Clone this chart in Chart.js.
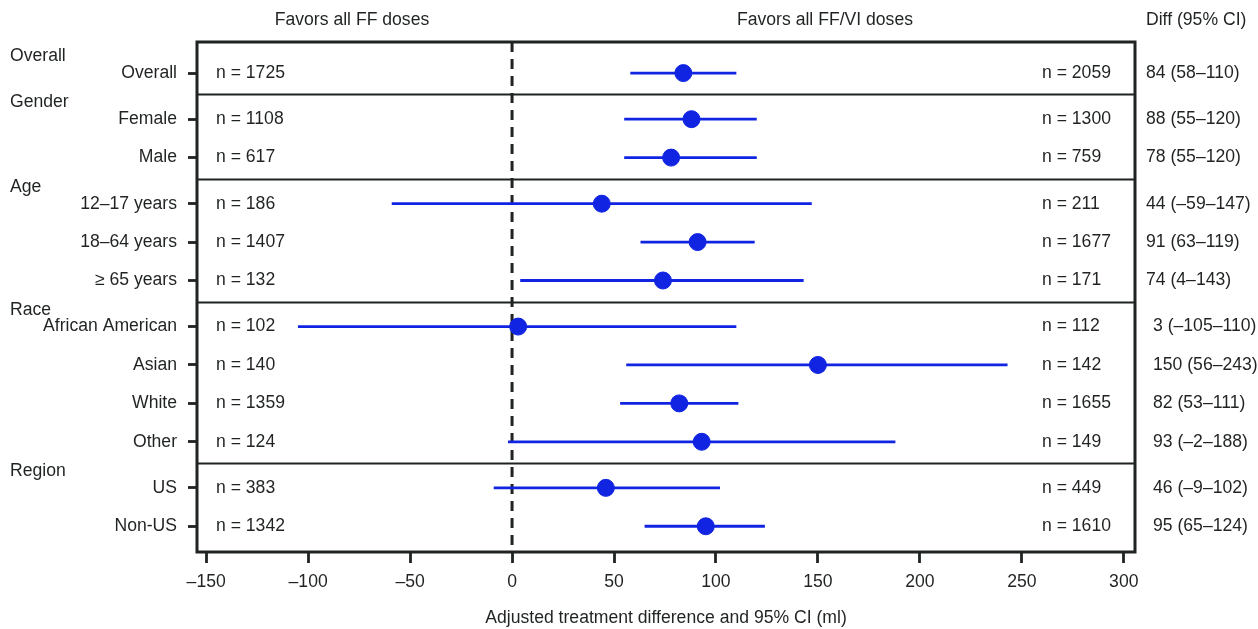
<!DOCTYPE html>
<html>
<head>
<meta charset="utf-8">
<script src="https://cdn.jsdelivr.net/npm/chart.js@4.4.1/dist/chart.umd.min.js"></script>
<style>
  html, body { margin: 0; padding: 0; background: #fff; }
  #wrap { width: 1258px; height: 629px; position: relative; }
</style>
</head>
<body>
<div id="wrap"><canvas id="forest"></canvas></div>
<script>
/* ===== data ===== */

const groupNames = ["Overall", "Gender", "Age", "Race", "Region"];
const groupSizes = [1, 2, 3, 4, 2];

const rowLabels = [
  "Overall",
  "Female", "Male",
  "12–17 years", "18–64 years", "≥ 65 years",
  "African American", "Asian", "White", "Other",
  "US", "Non-US"
];

const nFF   = [1725, 1108, 617, 186, 1407, 132, 102, 140, 1359, 124, 383, 1342];
const nFFVI = [2059, 1300, 759, 211, 1677, 171, 112, 142, 1655, 149, 449, 1610];

const diffEst = [84, 88, 78, 44, 91, 74, 3, 150, 82, 93, 46, 95];
const ciLow   = [58, 55, 55, -59, 63, 4, -105, 56, 53, -2, -9, 65];
const ciHigh  = [110, 120, 120, 147, 119, 143, 110, 243, 111, 188, 102, 124];

const xTicks = [-150, -100, -50, 0, 50, 100, 150, 200, 250, 300];

/* ===== row positions (1 per row, small gap between groups) ===== */

const GAP = 0.2;
const rowPos = [];
const groupStart = [];
const groupEnd = [];
let pos = 0;
groupSizes.forEach((size, g) => {
  groupStart.push(pos);
  for (let i = 0; i < size; i++) {
    rowPos.push(pos);
    if (i < size - 1) pos += 1;
  }
  groupEnd.push(pos);
  pos += 1 + GAP;
});

const dash = v => (v < 0 ? "–" + Math.abs(v) : String(v));

const ink = "#1f2321";
const blue = "#1024e2";
const FONT = "'Liberation Sans', Arial, sans-serif";
const FSIZE = 17.6;

/* ===== datasets ===== */

const ciSets = rowPos.map((y, i) => ({
  type: "line",
  data: [{ x: ciLow[i], y: y }, { x: ciHigh[i], y: y }],
  borderColor: blue,
  borderWidth: 2.8,
  pointRadius: 0,
  showLine: true,
  order: 2
}));

const estSet = {
  type: "scatter",
  data: rowPos.map((y, i) => ({ x: diffEst[i], y: y })),
  backgroundColor: blue,
  borderColor: blue,
  pointRadius: 8.5,
  pointHoverRadius: 8.5,
  order: 1
};

/* ===== extras: box, separators, zero line, texts ===== */

const forestExtras = {
  id: "forestExtras",

  beforeDatasetsDraw(chart) {
    const { ctx, chartArea: a, scales: { x } } = chart;
    const x0 = x.getPixelForValue(0);
    ctx.save();
    ctx.strokeStyle = ink;
    ctx.lineWidth = 3;
    ctx.setLineDash([10, 7]);
    ctx.beginPath();
    ctx.moveTo(x0, a.top);
    ctx.lineTo(x0, a.bottom);
    ctx.stroke();
    ctx.restore();
  },

  afterDatasetsDraw(chart) {
    const { ctx, chartArea: a, scales: { y } } = chart;
    ctx.save();

    // frame
    ctx.strokeStyle = ink;
    ctx.lineWidth = 3;
    ctx.strokeRect(a.left, a.top, a.right - a.left, a.bottom - a.top);

    // group separators
    ctx.lineWidth = 2.2;
    for (let g = 0; g < groupNames.length - 1; g++) {
      const yy = Math.round(y.getPixelForValue(groupEnd[g] + 0.55)) + 0.5;
      ctx.beginPath();
      ctx.moveTo(a.left, yy);
      ctx.lineTo(a.right, yy);
      ctx.stroke();
    }

    ctx.fillStyle = ink;
    ctx.font = FSIZE + "px " + FONT;
    ctx.textBaseline = "middle";

    // column headers
    ctx.textAlign = "center";
    ctx.fillText("Favors all FF doses", 352, 20);
    ctx.fillText("Favors all FF/VI doses", 825, 20);
    ctx.textAlign = "left";
    ctx.fillText("Diff (95% CI)", 1146, 20);

    // group headers
    groupNames.forEach((name, g) => {
      ctx.fillText(name, 10, y.getPixelForValue(groupStart[g] - 0.44));
    });

    // per-row counts and differences
    rowPos.forEach((p, i) => {
      const yy = y.getPixelForValue(p);
      ctx.fillText("n = " + nFF[i], 216, yy);
      ctx.fillText("n = " + nFFVI[i], 1042, yy);
      const txt = diffEst[i] + " (" + dash(ciLow[i]) + "–" + dash(ciHigh[i]) + ")";
      ctx.fillText(txt, i >= 6 ? 1153 : 1146, yy);
    });

    ctx.restore();
  }
};

/* ===== chart ===== */

Chart.defaults.font.family = FONT;
Chart.defaults.font.size = FSIZE;
Chart.defaults.color = ink;

new Chart(document.getElementById("forest"), {
  type: "scatter",
  data: { datasets: [...ciSets, estSet] },
  options: {
    responsive: true,
    maintainAspectRatio: false,
    animation: false,
    layout: { padding: { top: 42, right: 123, left: 0, bottom: 0 } },
    plugins: {
      legend: { display: false },
      tooltip: { enabled: false }
    },
    scales: {
      x: {
        type: "linear",
        min: -154.5,
        max: 305.5,
        afterBuildTicks: s => { s.ticks = xTicks.map(v => ({ value: v })); },
        afterFit: s => { s.height = 77; },
        ticks: {
          padding: 9,
          callback: v => dash(v)
        },
        grid: {
          drawOnChartArea: false,
          tickLength: 11,
          tickWidth: 2.8,
          tickColor: ink
        },
        border: { display: false },
        title: {
          display: true,
          text: "Adjusted treatment difference and 95% CI (ml)",
          padding: { top: 12, bottom: 0 }
        }
      },
      y: {
        type: "linear",
        reverse: true,
        min: -0.81,
        max: rowPos[rowPos.length - 1] + 0.67,
        afterBuildTicks: s => { s.ticks = rowPos.map(v => ({ value: v })); },
        afterFit: s => { s.width = 197; },
        ticks: {
          padding: 11,
          callback: (v, i) => rowLabels[i]
        },
        grid: {
          drawOnChartArea: false,
          tickLength: 9,
          tickWidth: 2.8,
          tickColor: ink
        },
        border: { display: false }
      }
    }
  },
  plugins: [forestExtras]
});
</script>
</body>
</html>
